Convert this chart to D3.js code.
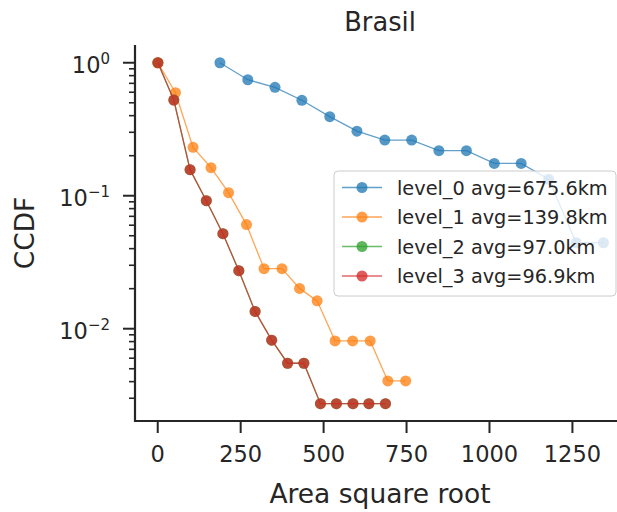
<!DOCTYPE html>
<html>
<head>
<meta charset="utf-8">
<script src="https://cdn.jsdelivr.net/npm/d3@7"></script>
<style>
  html, body { margin: 0; padding: 0; background: #fff; }
  svg { display: block; font-family: "DejaVu Sans", sans-serif; }
</style>
</head>
<body>
<svg id="chart" width="617" height="512"></svg>
<script>
// CCDF of region area square root, Brasil, per administrative level
const seriesNames = ["level_0", "level_1", "level_2", "level_3"];
const seriesLabels = ["level_0 avg=675.6km", "level_1 avg=139.8km", "level_2 avg=97.0km", "level_3 avg=96.9km"];
const seriesColors = ["#1f77b4", "#ff7f0e", "#2ca02c", "#d62728"];

const level0X = [189, 273, 355, 436, 520, 602, 686, 767, 849, 932, 1016, 1097, 1180, 1263, 1345];
const level0Y = [1.0, 0.745, 0.653, 0.522, 0.393, 0.306, 0.262, 0.262, 0.218, 0.218, 0.175, 0.175, 0.133, 0.0443, 0.0443];

const level1X = [2, 55, 108, 162, 215, 269, 322, 376, 429, 482, 536, 589, 642, 695, 749];
const level1Y = [1.0, 0.595, 0.231, 0.1625, 0.1054, 0.0607, 0.0283, 0.0283, 0.0201, 0.0162, 0.0081, 0.0081, 0.0081, 0.00405, 0.00405];

const level2X = [2, 50, 99, 148, 198, 246, 295, 345, 393, 442, 492, 540, 590, 638, 688];
const level2Y = [1.0, 0.524, 0.157, 0.0917, 0.0518, 0.0273, 0.0135, 0.0082, 0.0055, 0.0055, 0.00273, 0.00273, 0.00273, 0.00273, 0.00273];

const level3X = [2, 50, 99, 148, 198, 246, 295, 345, 393, 442, 492, 540, 590, 638, 688];
const level3Y = [1.0, 0.524, 0.157, 0.0917, 0.0518, 0.0273, 0.0135, 0.0082, 0.0055, 0.0055, 0.00273, 0.00273, 0.00273, 0.00273, 0.00273];

const xTicks = [0, 250, 500, 750, 1000, 1250];
const yMajorTicks = [1, 0.1, 0.01];
const yMajorExponents = ["0", "\u22121", "\u22122"];

const seriesX = [level0X, level1X, level2X, level3X];
const seriesY = [level0Y, level1Y, level2Y, level3Y];

const ink = "#262626";
const svg = d3.select("#chart");

const plot = { left: 135, right: 626, top: 45, bottom: 421 };

const x = d3.scaleLinear().domain([-67, 1413]).range([plot.left, plot.right]);
const y = d3.scaleLog().domain([Math.pow(10, -2.694), Math.pow(10, 0.1334)]).range([plot.bottom, plot.top]);

// series: connecting line plus circle markers
const line = d3.line().x(d => x(d[0])).y(d => y(d[1]));
seriesNames.forEach((name, i) => {
  const pts = seriesX[i].map((v, j) => [v, seriesY[i][j]]);
  const g = svg.append("g").attr("class", name);
  g.append("path")
    .attr("d", line(pts))
    .attr("fill", "none")
    .attr("stroke", seriesColors[i])
    .attr("stroke-width", 1.3)
    .attr("stroke-opacity", 0.7);
  g.selectAll("circle").data(pts).join("circle")
    .attr("cx", d => x(d[0]))
    .attr("cy", d => y(d[1]))
    .attr("r", 5.5)
    .attr("fill", seriesColors[i])
    .attr("fill-opacity", 0.76);
});

// x axis
const xAxis = d3.axisBottom(x).tickValues(xTicks).tickSize(12).tickPadding(13).tickFormat(d3.format("d"));
const gx = svg.append("g").attr("transform", `translate(0,${plot.bottom})`).call(xAxis);
gx.select(".domain").remove();
gx.selectAll(".tick line").attr("stroke", ink).attr("stroke-width", 2);
gx.selectAll(".tick text").attr("fill", ink).attr("font-size", 22.5).attr("font-family", "DejaVu Sans");

// y axis: minor ticks
const minorVals = [];
[-3, -2, -1, 0].forEach(e => {
  for (let m = 2; m <= 9; m++) {
    const v = m * Math.pow(10, e);
    if (v >= y.domain()[0] && v <= y.domain()[1]) minorVals.push(v);
  }
});
svg.append("g").selectAll("line").data(minorVals).join("line")
  .attr("x1", plot.left - 6).attr("x2", plot.left)
  .attr("y1", d => y(d)).attr("y2", d => y(d))
  .attr("stroke", ink).attr("stroke-width", 1.6);

// y axis: major ticks with power-of-ten labels
const gy = svg.append("g");
gy.selectAll("line").data(yMajorTicks).join("line")
  .attr("x1", plot.left - 12).attr("x2", plot.left)
  .attr("y1", d => y(d)).attr("y2", d => y(d))
  .attr("stroke", ink).attr("stroke-width", 2);
const lab = gy.selectAll("text").data(yMajorTicks).join("text")
  .attr("x", 110)
  .attr("y", d => y(d) + 10)
  .attr("text-anchor", "end")
  .attr("fill", ink)
  .attr("font-size", 22.5);
lab.append("tspan").text("10");
lab.append("tspan").attr("dy", -9).attr("font-size", 15).text((d, i) => yMajorExponents[i]);

// spines
svg.append("line").attr("x1", plot.left).attr("x2", plot.left).attr("y1", plot.top).attr("y2", plot.bottom + 1)
  .attr("stroke", ink).attr("stroke-width", 2.2);
svg.append("line").attr("x1", plot.left - 1).attr("x2", 617).attr("y1", plot.bottom).attr("y2", plot.bottom)
  .attr("stroke", ink).attr("stroke-width", 2.2);

// labels and title
svg.append("text").attr("x", 380).attr("y", 31).attr("text-anchor", "middle")
  .attr("fill", ink).attr("font-size", 25.7).text("Brasil");
svg.append("text").attr("x", 380).attr("y", 503).attr("text-anchor", "middle")
  .attr("fill", ink).attr("font-size", 26.5).text("Area square root");
svg.append("text").attr("transform", "translate(34,233) rotate(-90)").attr("text-anchor", "middle")
  .attr("fill", ink).attr("font-size", 26.5).text("CCDF");

// legend
const legend = svg.append("g").attr("transform", "translate(334,171)");
legend.append("rect").attr("width", 282).attr("height", 125).attr("rx", 4)
  .attr("fill", "#fff").attr("fill-opacity", 0.8)
  .attr("stroke", "#cccccc").attr("stroke-width", 1);
seriesLabels.forEach((t, i) => {
  const cy = 16.5 + i * 29.5;
  legend.append("line").attr("x1", 8).attr("x2", 48).attr("y1", cy).attr("y2", cy)
    .attr("stroke", seriesColors[i]).attr("stroke-width", 1.3).attr("stroke-opacity", 0.7);
  legend.append("circle").attr("cx", 28).attr("cy", cy).attr("r", 5.5)
    .attr("fill", seriesColors[i]).attr("fill-opacity", 0.76);
  legend.append("text").attr("x", 63).attr("y", cy + 7).attr("fill", ink)
    .attr("font-size", 19.3).text(t);
});
</script>
</body>
</html>
